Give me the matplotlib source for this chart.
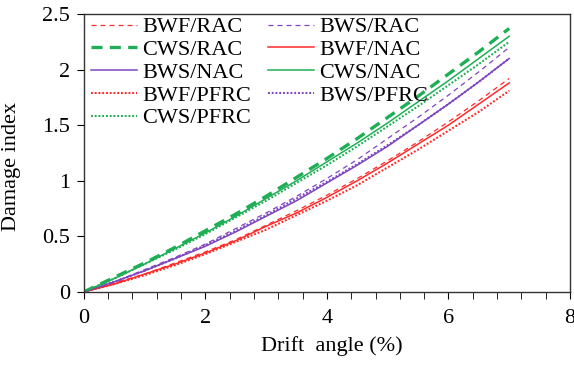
import numpy as np
import matplotlib
matplotlib.use("Agg")
import matplotlib.pyplot as plt
from matplotlib.ticker import MultipleLocator

# drift angle (%) and damage index
drift = [0, 0.5, 1, 1.5, 2, 2.5, 3, 3.5, 4, 4.5, 5, 5.5, 6, 6.5, 7]

bwf_rac = [0, 0.08, 0.16, 0.26, 0.36, 0.47, 0.60, 0.73, 0.87, 1.02, 1.18, 1.35, 1.53, 1.72, 1.92]
bws_rac = [0, 0.09, 0.20, 0.31, 0.43, 0.57, 0.71, 0.86, 1.02, 1.19, 1.38, 1.57, 1.77, 1.98, 2.20]
cws_rac = [0, 0.13, 0.26, 0.40, 0.55, 0.70, 0.86, 1.03, 1.20, 1.38, 1.57, 1.76, 1.96, 2.16, 2.37]
bwf_nac = [0, 0.07, 0.16, 0.25, 0.35, 0.46, 0.59, 0.71, 0.85, 1.00, 1.16, 1.33, 1.50, 1.69, 1.88]
bws_nac = [0, 0.09, 0.19, 0.30, 0.41, 0.54, 0.68, 0.82, 0.98, 1.14, 1.31, 1.50, 1.69, 1.89, 2.10]
cws_nac = [0, 0.12, 0.25, 0.39, 0.53, 0.68, 0.84, 1.00, 1.17, 1.34, 1.52, 1.71, 1.90, 2.10, 2.30]
bwf_pfrc = [0, 0.07, 0.15, 0.24, 0.34, 0.45, 0.56, 0.69, 0.82, 0.96, 1.12, 1.28, 1.45, 1.62, 1.81]
bws_pfrc = [0, 0.09, 0.19, 0.30, 0.42, 0.55, 0.69, 0.84, 0.99, 1.15, 1.32, 1.50, 1.69, 1.89, 2.10]
cws_pfrc = [0, 0.12, 0.25, 0.38, 0.52, 0.67, 0.82, 0.98, 1.14, 1.31, 1.49, 1.67, 1.86, 2.05, 2.25]

red = '#ff2a2a'
purple = '#7d45c0'
green = '#1fae55'

plt.rcParams['font.family'] = ['Liberation Serif', 'DejaVu Serif']
fs = 16

fig = plt.figure(figsize=(5.74, 3.69), dpi=100)
ax = fig.add_axes([0.146, 0.209, 0.847, 0.753])

thin_dash = (0, (4, 3.2))
dot = (0, (0.9, 0.9))

l1, = ax.plot(drift, bwf_rac, color=red, lw=0.9, ls=thin_dash, label='BWF/RAC')
l2, = ax.plot(drift, bws_rac, color=purple, lw=0.9, ls=thin_dash, label='BWS/RAC')
l3, = ax.plot(drift, cws_rac, color=green, lw=2.4, ls=(0, (3.3, 2.2)), label='CWS/RAC')
l4, = ax.plot(drift, bwf_nac, color=red, lw=1.1, ls='-', label='BWF/NAC')
l5, = ax.plot(drift, bws_nac, color=purple, lw=1.1, ls='-', label='BWS/NAC')
l6, = ax.plot(drift, cws_nac, color=green, lw=1.1, ls='-', label='CWS/NAC')
l7, = ax.plot(drift, bwf_pfrc, color=red, lw=1.5, ls=dot, label='BWF/PFRC')
l8, = ax.plot(drift, bws_pfrc, color=purple, lw=1.5, ls=dot, label='BWS/PFRC')
l9, = ax.plot(drift, cws_pfrc, color=green, lw=1.5, ls=dot, label='CWS/PFRC')

ax.set_xlim(0, 8)
ax.set_ylim(0, 2.5)
ax.xaxis.set_major_locator(MultipleLocator(2))
ax.xaxis.set_minor_locator(MultipleLocator(0.4))
ax.set_yticks([0, 0.5, 1, 1.5, 2, 2.5])
ax.set_yticklabels(['0', '0.5', '1', '1.5', '2', '2.5'])

ax.tick_params(axis='both', which='both', direction='out', labelsize=fs,
               top=False, right=False)
ax.tick_params(axis='x', which='major', length=5, pad=7)
ax.tick_params(axis='x', which='minor', length=5)
ax.tick_params(axis='y', which='major', length=5, pad=5)

for s in ax.spines.values():
    s.set_color('#333333')
    s.set_linewidth(1.0)

ax.set_xlabel('Drift  angle (%)', fontsize=fs)
ax.set_ylabel('Damage index', fontsize=fs)
ax.xaxis.set_label_coords(0.51, -0.16)
ax.yaxis.set_label_coords(-0.13, 0.45)

# column-wise order so the rows read like the original
handles = [l1, l3, l5, l7, l9, l2, l4, l6, l8]
ax.legend(handles=handles, loc='upper left', bbox_to_anchor=(0.014, 0.99),
          ncol=2, frameon=False, fontsize=fs, handlelength=2.1,
          handletextpad=0.22, columnspacing=0.75, labelspacing=0.1,
          borderaxespad=0.0, borderpad=0.0)

fig.savefig('out.png', dpi=100)
